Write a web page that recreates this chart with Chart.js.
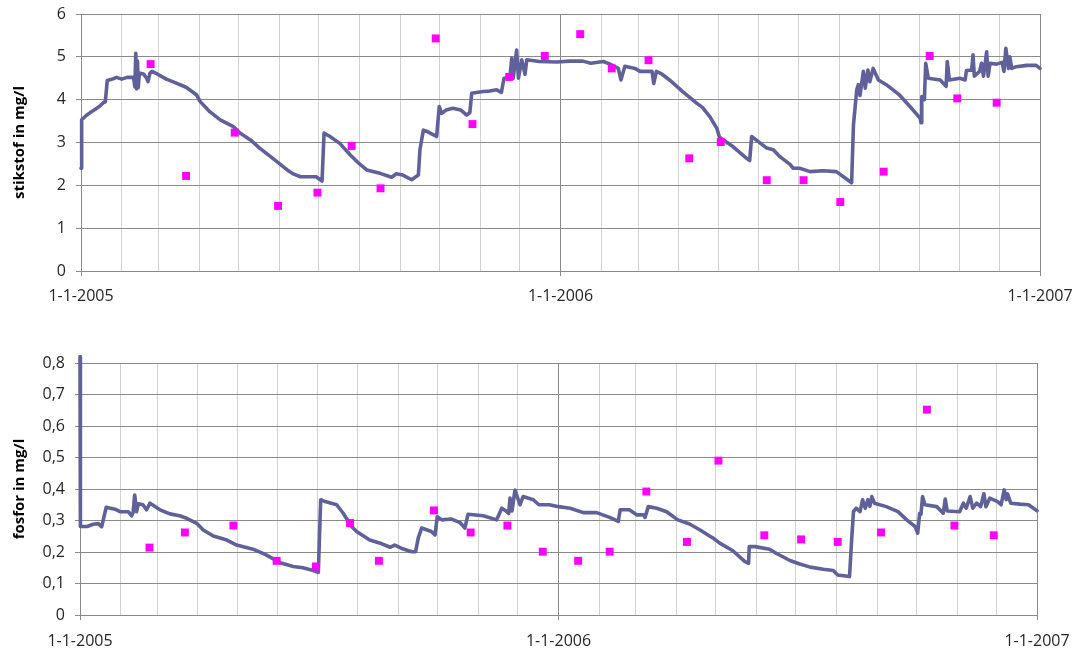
<!DOCTYPE html>
<html lang="nl">
<head>
<meta charset="utf-8">
<title>Stikstof en fosfor 2005-2006</title>
<script src="https://cdn.jsdelivr.net/npm/chart.js@4.4.1/dist/chart.umd.min.js"></script>
<style>
  html, body { margin: 0; padding: 0; background: #ffffff; }
  #wrap { position: relative; width: 1077px; height: 653px; overflow: hidden; }
  canvas { position: absolute; left: 0; }
  #stikstof { top: 0; }
  #fosfor { top: 322px; }
</style>
</head>
<body>
<div id="wrap">
  <canvas id="stikstof" width="1077" height="322"></canvas>
  <canvas id="fosfor" width="1077" height="331"></canvas>
</div>
<script>
// Tijd als dagen sinds 1-1-2005
const asLabels = ['1-1-2005', '1-1-2006', '1-1-2007'];
const asLabelDagen = [0, 365, 730];

// Monstername (bemonsteringsdagen), gelijk voor stikstof en fosfor
const monsterDagen = [53, 80, 117, 150, 180, 206, 228, 270, 298, 326, 353, 380,
  404, 432, 463, 487, 522, 550, 578, 611, 646, 667, 697];
const stikstofMonsters = [4.83, 2.22, 3.23, 1.52, 1.83, 2.92, 1.93, 5.43, 3.43, 4.53,
  5.02, 5.53, 4.73, 4.92, 2.63, 3.01, 2.12, 2.12, 1.61, 2.32, 5.02, 4.03, 3.93];
const fosforMonsters = [0.214, 0.262, 0.284, 0.172, 0.154, 0.292, 0.172, 0.332, 0.262,
  0.284, 0.201, 0.172, 0.201, 0.392, 0.232, 0.49, 0.253, 0.24, 0.232, 0.262, 0.652,
  0.284, 0.253];

// Continue meting stikstof
const stikstofDagen = [0, 0.5, 4, 8, 14, 17, 18.5, 20, 24, 27, 31, 35, 40, 41, 41.7, 42.3,
  43, 43.6, 44.4, 47.5, 50, 51, 52.5, 54, 58, 65, 73, 80, 85, 88, 90.6, 98, 106, 116,
  121, 129, 136, 146, 157, 162, 167, 179, 183.5, 185, 189.5, 197, 205, 212, 217.5,
  227.6, 236.5, 240, 245, 251.7, 256.8, 258, 260.6, 264, 270.7, 272.7, 274.5, 278,
  283, 289, 293.6, 296, 297.4, 306, 311, 316.4, 320, 322, 325, 326.5, 327.9, 329,
  331.6, 333, 335.5, 338, 339.3, 349, 362, 372, 382, 388, 397.6, 402.7, 409, 411,
  414, 421.7, 425.5, 434.7, 436, 438, 442, 448, 458, 468.6, 473, 478.8, 484, 486,
  496.5, 506.7, 509, 510.5, 515.6, 522, 527, 532, 539.7, 542, 547, 555, 565, 575,
  586.6, 588, 590.5, 591.7, 593, 595.5, 597, 599, 600.5, 603, 607, 613, 623, 631,
  638.7, 639.5, 640, 642, 643, 645, 654, 658.5, 659.4, 661, 669, 673, 674, 678, 679,
  680, 684, 685.5, 687, 689.4, 690.5, 692, 697, 701, 702.6, 704, 706, 707, 708.5,
  712, 720, 727, 730];
const stikstofWaarden = [2.40, 3.53, 3.63, 3.72, 3.84, 3.93, 3.95, 4.45, 4.48, 4.52, 4.48,
  4.52, 4.52, 4.30, 5.08, 4.25, 4.90, 4.28, 4.62, 4.60, 4.50, 4.42, 4.62, 4.66, 4.60,
  4.48, 4.38, 4.29, 4.18, 4.11, 3.96, 3.72, 3.53, 3.37, 3.22, 3.06, 2.87, 2.63, 2.36,
  2.26, 2.20, 2.20, 2.10, 3.22, 3.14, 2.98, 2.71, 2.50, 2.36, 2.28, 2.19, 2.27, 2.24,
  2.13, 2.24, 2.83, 3.29, 3.25, 3.14, 3.84, 3.68, 3.76, 3.80, 3.76, 3.64, 3.70, 4.15,
  4.19, 4.20, 4.23, 4.17, 4.50, 4.51, 4.52, 4.97, 4.50, 5.16, 4.50, 4.93, 4.59, 4.93,
  4.89, 4.88, 4.90, 4.90, 4.85, 4.89, 4.83, 4.73, 4.46, 4.78, 4.73, 4.66, 4.66, 4.38,
  4.66, 4.60, 4.46, 4.19, 3.92, 3.82, 3.60, 3.33, 3.12, 2.90, 2.63, 2.58, 3.14, 3.02,
  2.87, 2.83, 2.67, 2.49, 2.40, 2.40, 2.32, 2.34, 2.32, 2.06, 3.41, 4.23, 4.35, 4.10,
  4.66, 4.27, 4.69, 4.42, 4.73, 4.46, 4.35, 4.11, 3.84, 3.57, 3.46, 4.07, 4.00, 4.85,
  4.50, 4.46, 4.31, 4.89, 4.46, 4.50, 4.46, 4.68, 4.69, 5.05, 4.55, 4.66, 4.85, 4.55,
  5.12, 4.55, 4.85, 4.83, 4.87, 4.66, 5.20, 4.73, 5.00, 4.73, 4.77, 4.80, 4.80, 4.73];

// Continue meting fosfor
const fosforDagen = [0, 0.3, 5.5, 10, 14, 16.5, 20, 26.7, 30.5, 36.8, 39.4, 40.5, 41.7,
  43.2, 44.5, 48, 50.8, 53.4, 61, 68.6, 76, 81.4, 89, 94, 101.7, 112, 119.5, 132, 142,
  152.6, 162.7, 170, 178, 181.8, 183.6, 187, 195.8, 200.8, 204.7, 206, 211, 221, 229,
  236.5, 240, 245, 253, 256, 258, 260.6, 268, 270.8, 272.5, 276, 283, 290, 293.6, 296,
  307.6, 317.8, 321.7, 325, 327, 328, 329.5, 331.8, 333.5, 335.6, 338, 345.8, 350,
  358, 365, 373.8, 384, 394, 404, 410.6, 412, 419, 424.6, 430, 431, 433.5, 440, 447.5,
  456, 465, 473, 480.5, 483, 488, 498, 507, 510, 510.5, 515, 526, 531, 541.6, 549,
  557, 567, 574.6, 578, 587, 588.6, 590, 592, 595, 597, 599, 601, 602.5, 604, 606,
  615, 624, 630.6, 637, 639, 640.5, 641.5, 642.7, 644.5, 653.5, 658.5, 660, 661.5,
  671, 673.8, 676, 679, 681, 684, 687, 689.5, 691, 694, 700, 702.6, 705, 706.5,
  707.5, 710, 717, 723.5, 730];
const fosforWaarden = [0.82, 0.281, 0.281, 0.288, 0.29, 0.28, 0.342, 0.336, 0.328, 0.328,
  0.315, 0.325, 0.381, 0.328, 0.353, 0.35, 0.334, 0.355, 0.334, 0.321, 0.315, 0.307,
  0.291, 0.27, 0.251, 0.238, 0.222, 0.209, 0.191, 0.166, 0.154, 0.15, 0.141, 0.135,
  0.366, 0.36, 0.35, 0.323, 0.297, 0.286, 0.265, 0.238, 0.228, 0.215, 0.222, 0.212,
  0.201, 0.201, 0.244, 0.276, 0.265, 0.254, 0.312, 0.302, 0.305, 0.293, 0.276, 0.32,
  0.315, 0.302, 0.339, 0.33, 0.323, 0.371, 0.33, 0.397, 0.376, 0.35, 0.376, 0.366,
  0.35, 0.35, 0.344, 0.339, 0.325, 0.325, 0.31, 0.297, 0.334, 0.334, 0.318, 0.318,
  0.31, 0.344, 0.339, 0.328, 0.302, 0.289, 0.27, 0.25, 0.244, 0.228, 0.204, 0.17,
  0.164, 0.217, 0.217, 0.209, 0.196, 0.173, 0.162, 0.152, 0.145, 0.141, 0.127, 0.122,
  0.238, 0.328, 0.339, 0.328, 0.366, 0.339, 0.366, 0.345, 0.376, 0.355, 0.344, 0.328,
  0.302, 0.281, 0.26, 0.323, 0.32, 0.376, 0.35, 0.344, 0.323, 0.368, 0.33, 0.328,
  0.355, 0.339, 0.376, 0.339, 0.355, 0.344, 0.385, 0.344, 0.371, 0.36, 0.35, 0.397,
  0.366, 0.385, 0.355, 0.352, 0.35, 0.331];

const DAG_MS = 86400000;
const START = Date.UTC(2005, 0, 1);

// maandgrenzen van 2005 en 2006 als rasterlijnen
const maandDagen = [];
for (let j = 2005; j <= 2006; j++) {
  for (let m = 0; m < 12; m++) maandDagen.push((Date.UTC(j, m, 1) - START) / DAG_MS);
}
maandDagen.push((Date.UTC(2007, 0, 1) - START) / DAG_MS);

const lijnKleur = '#60609a';
const monsterKleur = '#ff00ff';
const rasterDonker = '#8a8a8a';
const rasterLicht = '#d2d2d2';
const tekstKleur = '#262626';
const lettertype = '"Open Sans", "Noto Sans", sans-serif';

function punten(xs, ys) {
  return xs.map((x, i) => ({ x: x, y: ys[i] }));
}

function isJaarGrens(v) {
  return asLabelDagen.indexOf(Math.round(v)) !== -1;
}

function maakGrafiek(id, opts) {
  return new Chart(document.getElementById(id), {
    type: 'scatter',
    data: {
      datasets: [
        {
          label: 'monsters',
          data: punten(monsterDagen, opts.monsters),
          pointStyle: 'rect',
          pointRadius: 5.6,
          pointBorderWidth: 0,
          backgroundColor: monsterKleur,
          borderColor: monsterKleur,
          showLine: false
        },
        {
          label: 'meting',
          data: punten(opts.dagen, opts.waarden),
          showLine: true,
          borderColor: lijnKleur,
          borderWidth: 3.6,
          borderJoinStyle: 'round',
          borderCapStyle: 'round',
          pointRadius: 0,
          tension: 0,
          clip: 8
        }
      ]
    },
    options: {
      responsive: false,
      animation: false,
      devicePixelRatio: 1,
      layout: { padding: { top: opts.padTop, right: opts.padRight, left: 0, bottom: 0 } },
      plugins: { legend: { display: false }, tooltip: { enabled: false } },
      scales: {
        x: {
          type: 'linear',
          min: 0,
          max: 730,
          afterBuildTicks: s => { s.ticks = maandDagen.map(v => ({ value: v })); },
          afterFit: s => { s.height = opts.xHoogte; s.paddingLeft = 0; s.paddingRight = 0; },
          border: { color: rasterDonker, width: 1 },
          grid: {
            color: c => (c.tick && isJaarGrens(c.tick.value)) ? rasterDonker : rasterLicht,
            tickColor: c => (c.tick && isJaarGrens(c.tick.value)) ? rasterDonker : 'rgba(0,0,0,0)',
            tickLength: 5,
            lineWidth: 1
          },
          ticks: {
            autoSkip: false,
            maxRotation: 0,
            padding: opts.xPad,
            color: tekstKleur,
            font: { family: lettertype, size: 16 },
            callback: v => {
              const i = asLabelDagen.indexOf(Math.round(v));
              return i === -1 ? '' : asLabels[i];
            }
          }
        },
        y: {
          min: 0,
          max: opts.yMax,
          afterFit: s => { s.width = opts.yBreedte; s.paddingTop = 0; s.paddingBottom = 0; },
          border: { color: rasterDonker, width: 1 },
          grid: { color: rasterDonker, tickColor: rasterDonker, tickLength: 5, lineWidth: 1 },
          ticks: {
            stepSize: opts.yStap,
            padding: 10,
            color: tekstKleur,
            font: { family: lettertype, size: 16 },
            callback: opts.yLabel
          },
          title: {
            display: true,
            text: opts.titel,
            color: '#000000',
            font: { family: lettertype, size: 15, weight: 'bold' },
            padding: { top: 11, bottom: 0 }
          }
        }
      }
    }
  });
}

function teken() {
  maakGrafiek('stikstof', {
    dagen: stikstofDagen,
    waarden: stikstofWaarden,
    monsters: stikstofMonsters,
    yMax: 6,
    yStap: 1,
    yLabel: v => String(v),
    titel: 'stikstof in mg/l',
    padTop: 14,
    padRight: 37,
    xHoogte: 51,
    yBreedte: 81,
    xPad: 11
  });
  maakGrafiek('fosfor', {
    dagen: fosforDagen,
    waarden: fosforWaarden,
    monsters: fosforMonsters,
    yMax: 0.8,
    yStap: 0.1,
    yLabel: v => (Math.abs(v) < 1e-9 ? '0' : (Math.round(v * 10) / 10).toFixed(1).replace('.', ',')),
    titel: 'fosfor in mg/l',
    padTop: 41,
    padRight: 40,
    xHoogte: 38,
    yBreedte: 80,
    xPad: 12
  });
}

if (document.fonts && document.fonts.load) {
  Promise.all([
    document.fonts.load('16px "Open Sans"'),
    document.fonts.load('bold 15px "Open Sans"')
  ]).then(teken, teken);
} else {
  teken();
}
</script>
</body>
</html>
